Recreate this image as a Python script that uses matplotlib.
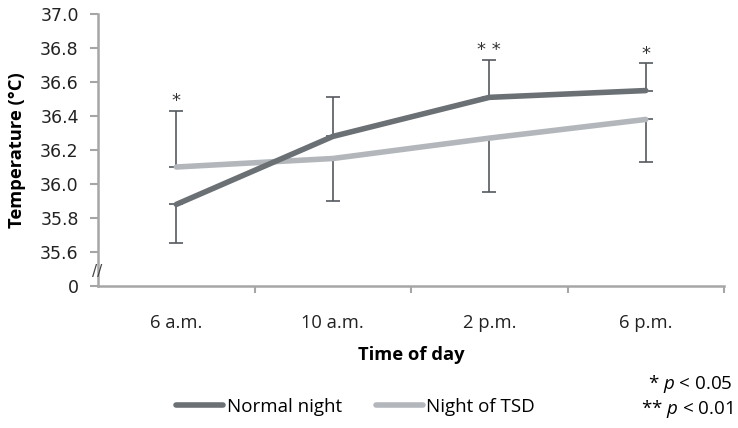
import matplotlib
matplotlib.use("Agg")
import matplotlib.pyplot as plt
import numpy as np

times = ["6 a.m.", "10 a.m.", "2 p.m.", "6 p.m."]
normal = [35.88, 36.28, 36.51, 36.55]
normal_err = [0.23, 0.23, 0.22, 0.16]
tsd = [36.10, 36.15, 36.27, 36.38]
tsd_err = [0.33, 0.25, 0.32, 0.25]
stars = ["*", "", "**", "*"]
yticks = [35.4, 35.6, 35.8, 36.0, 36.2, 36.4, 36.6, 36.8, 37.0]
ylabels = ["0", "35.6", "35.8", "36.0", "36.2", "36.4", "36.6", "36.8", "37.0"]

dark = "#6b7075"
light = "#b3b7bb"
bar_col = "#555a5f"
axis_col = "#a6a6a6"

plt.rcParams["mathtext.fontset"] = "custom"
plt.rcParams["mathtext.it"] = "Open Sans:italic"
plt.rcParams["mathtext.rm"] = "Open Sans"

fig = plt.figure(figsize=(7.38, 4.28), dpi=100)
ax = fig.add_axes([0.133, 0.332, 0.848, 0.635])
x = np.arange(len(times))

# error bars: normal goes up except at 6 a.m., TSD goes opposite
n_lo = [normal_err[0], 0, 0, 0]
n_hi = [0, normal_err[1], normal_err[2], normal_err[3]]
t_lo = [0, tsd_err[1], tsd_err[2], tsd_err[3]]
t_hi = [tsd_err[0], 0, 0, 0]
ax.errorbar(x, normal, yerr=[n_lo, n_hi], fmt="none", ecolor=bar_col,
            elinewidth=1.2, capsize=5, capthick=1.2, zorder=1)
ax.errorbar(x, tsd, yerr=[t_lo, t_hi], fmt="none", ecolor=bar_col,
            elinewidth=1.2, capsize=5, capthick=1.2, zorder=1)
ax.plot(x, tsd, color=light, lw=4, solid_capstyle="round", label="Night of TSD", zorder=2)
ax.plot(x, normal, color=dark, lw=4, solid_capstyle="round", label="Normal night", zorder=3)

tops = [tsd[0] + tsd_err[0], 0, normal[2] + normal_err[2], normal[3] + normal_err[3]]
for i, s in enumerate(stars):
    if s:
        ax.text(x[i], tops[i] + 0.005, " ".join(s), ha="center", va="bottom",
                fontsize=13, color="#333333")

ax.set_xlim(-0.5, 3.5)
ax.set_ylim(35.4, 37.0)
ax.set_yticks(yticks)
ax.set_yticklabels(ylabels, fontsize=12.5, color="#222222")
ax.set_xticks(x)
ax.set_xticklabels(times, fontsize=13.2, color="#222222", family="Open Sans")
ax.set_xticks([0.5, 1.5, 2.5, 3.5], minor=True)
ax.tick_params(axis="x", which="major", length=0, pad=20)
ax.tick_params(axis="x", which="minor", length=5, color=axis_col, width=1.5)
ax.tick_params(axis="y", length=6, color=axis_col, width=1.5, pad=8)
for s in ["top", "right"]:
    ax.spines[s].set_visible(False)
for s in ["left", "bottom"]:
    ax.spines[s].set_color(axis_col)
    ax.spines[s].set_linewidth(1.8)

ax.set_ylabel("Temperature (°C)", fontsize=13.2, fontweight="bold", family="Open Sans", labelpad=10)
ax.set_xlabel("Time of day", fontsize=13.2, fontweight="bold", family="Open Sans", labelpad=10)

# axis break marks
ax.text(-0.002, 0.052, "//", transform=ax.transAxes, ha="center", va="center",
        fontsize=11, color="#444444")

h, l = ax.get_legend_handles_labels()
fig.legend([h[1], h[0]], [l[1], l[0]], loc="center", bbox_to_anchor=(0.482, 0.05),
           ncol=2, frameon=False, prop={"family": "Open Sans", "size": 13.5},
           handlelength=2.5, handletextpad=0.2, columnspacing=1.8)
fig.text(0.993, 0.103, "* $p$ < 0.05", ha="right", va="center", fontsize=13.5, family="Open Sans")
fig.text(0.993, 0.044, "** $p$ < 0.01", ha="right", va="center", fontsize=13.5, family="Open Sans")

fig.savefig("out.png", dpi=100)
